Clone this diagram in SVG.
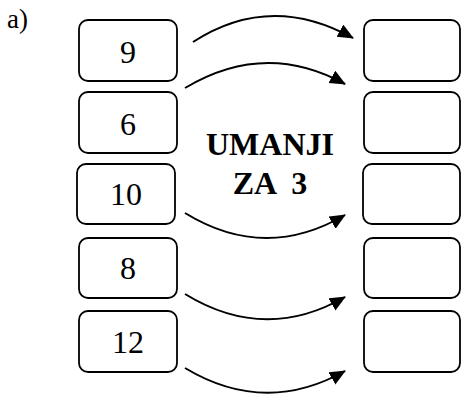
<svg xmlns="http://www.w3.org/2000/svg" width="461" height="394" viewBox="0 0 461 394">
<style>
.box{fill:#fff;stroke:#000;stroke-width:1.8}
.num{font-family:"Liberation Serif","Times New Roman",serif;font-size:32px;text-anchor:middle;fill:#000}
.lbl{font-family:"Liberation Serif","Times New Roman",serif;font-size:32px;font-weight:bold;text-anchor:middle;fill:#000;white-space:pre}
.arr{fill:none;stroke:#000;stroke-width:2;marker-end:url(#ah)}
</style>
<defs>
<marker id="ah" markerUnits="userSpaceOnUse" markerWidth="18" markerHeight="16" refX="15" refY="7" orient="auto">
<path d="M0,0 L16,7 L0,14 z" fill="#000"/>
</marker>
</defs>
<text x="7" y="28" style="font-family:'Liberation Serif',serif;font-size:27px">a)</text>
<g id="n9"><rect class="box" x="79" y="20" width="98" height="61" rx="9"/><text class="num" x="128" y="63">9</text></g>
<g id="n6"><rect class="box" x="79" y="92" width="98" height="61" rx="9"/><text class="num" x="128" y="135">6</text></g>
<g id="n10"><rect class="box" x="77" y="164" width="98" height="60" rx="9"/><text class="num" x="126" y="205">10</text></g>
<g id="n8"><rect class="box" x="79" y="238" width="98" height="60" rx="9"/><text class="num" x="128" y="279">8</text></g>
<g id="n12"><rect class="box" x="79" y="311" width="98" height="61" rx="9"/><text class="num" x="128" y="353">12</text></g>
<g id="r1"><rect class="box" x="364" y="20" width="96" height="61" rx="9"/></g>
<g id="r2"><rect class="box" x="364" y="92" width="96" height="61" rx="9"/></g>
<g id="r3"><rect class="box" x="363" y="164" width="97" height="60" rx="9"/></g>
<g id="r4"><rect class="box" x="364" y="238" width="96" height="60" rx="9"/></g>
<g id="r5"><rect class="box" x="364" y="311" width="96" height="61" rx="9"/></g>
<g id="label">
<text class="lbl" x="270" y="155">UMANJI</text>
<text class="lbl" x="270" y="194">ZA  3</text>
</g>
<g id="connectors">
<path class="arr" d="M193,42 Q270,-8 353,38"/>
<path class="arr" d="M185,88 Q265,40 345,84"/>
<path class="arr" d="M185,213 Q265,262 345,215"/>
<path class="arr" d="M185,294 Q265,343 345,297"/>
<path class="arr" d="M185,368 Q265,416 345,371"/>
</g>
</svg>
